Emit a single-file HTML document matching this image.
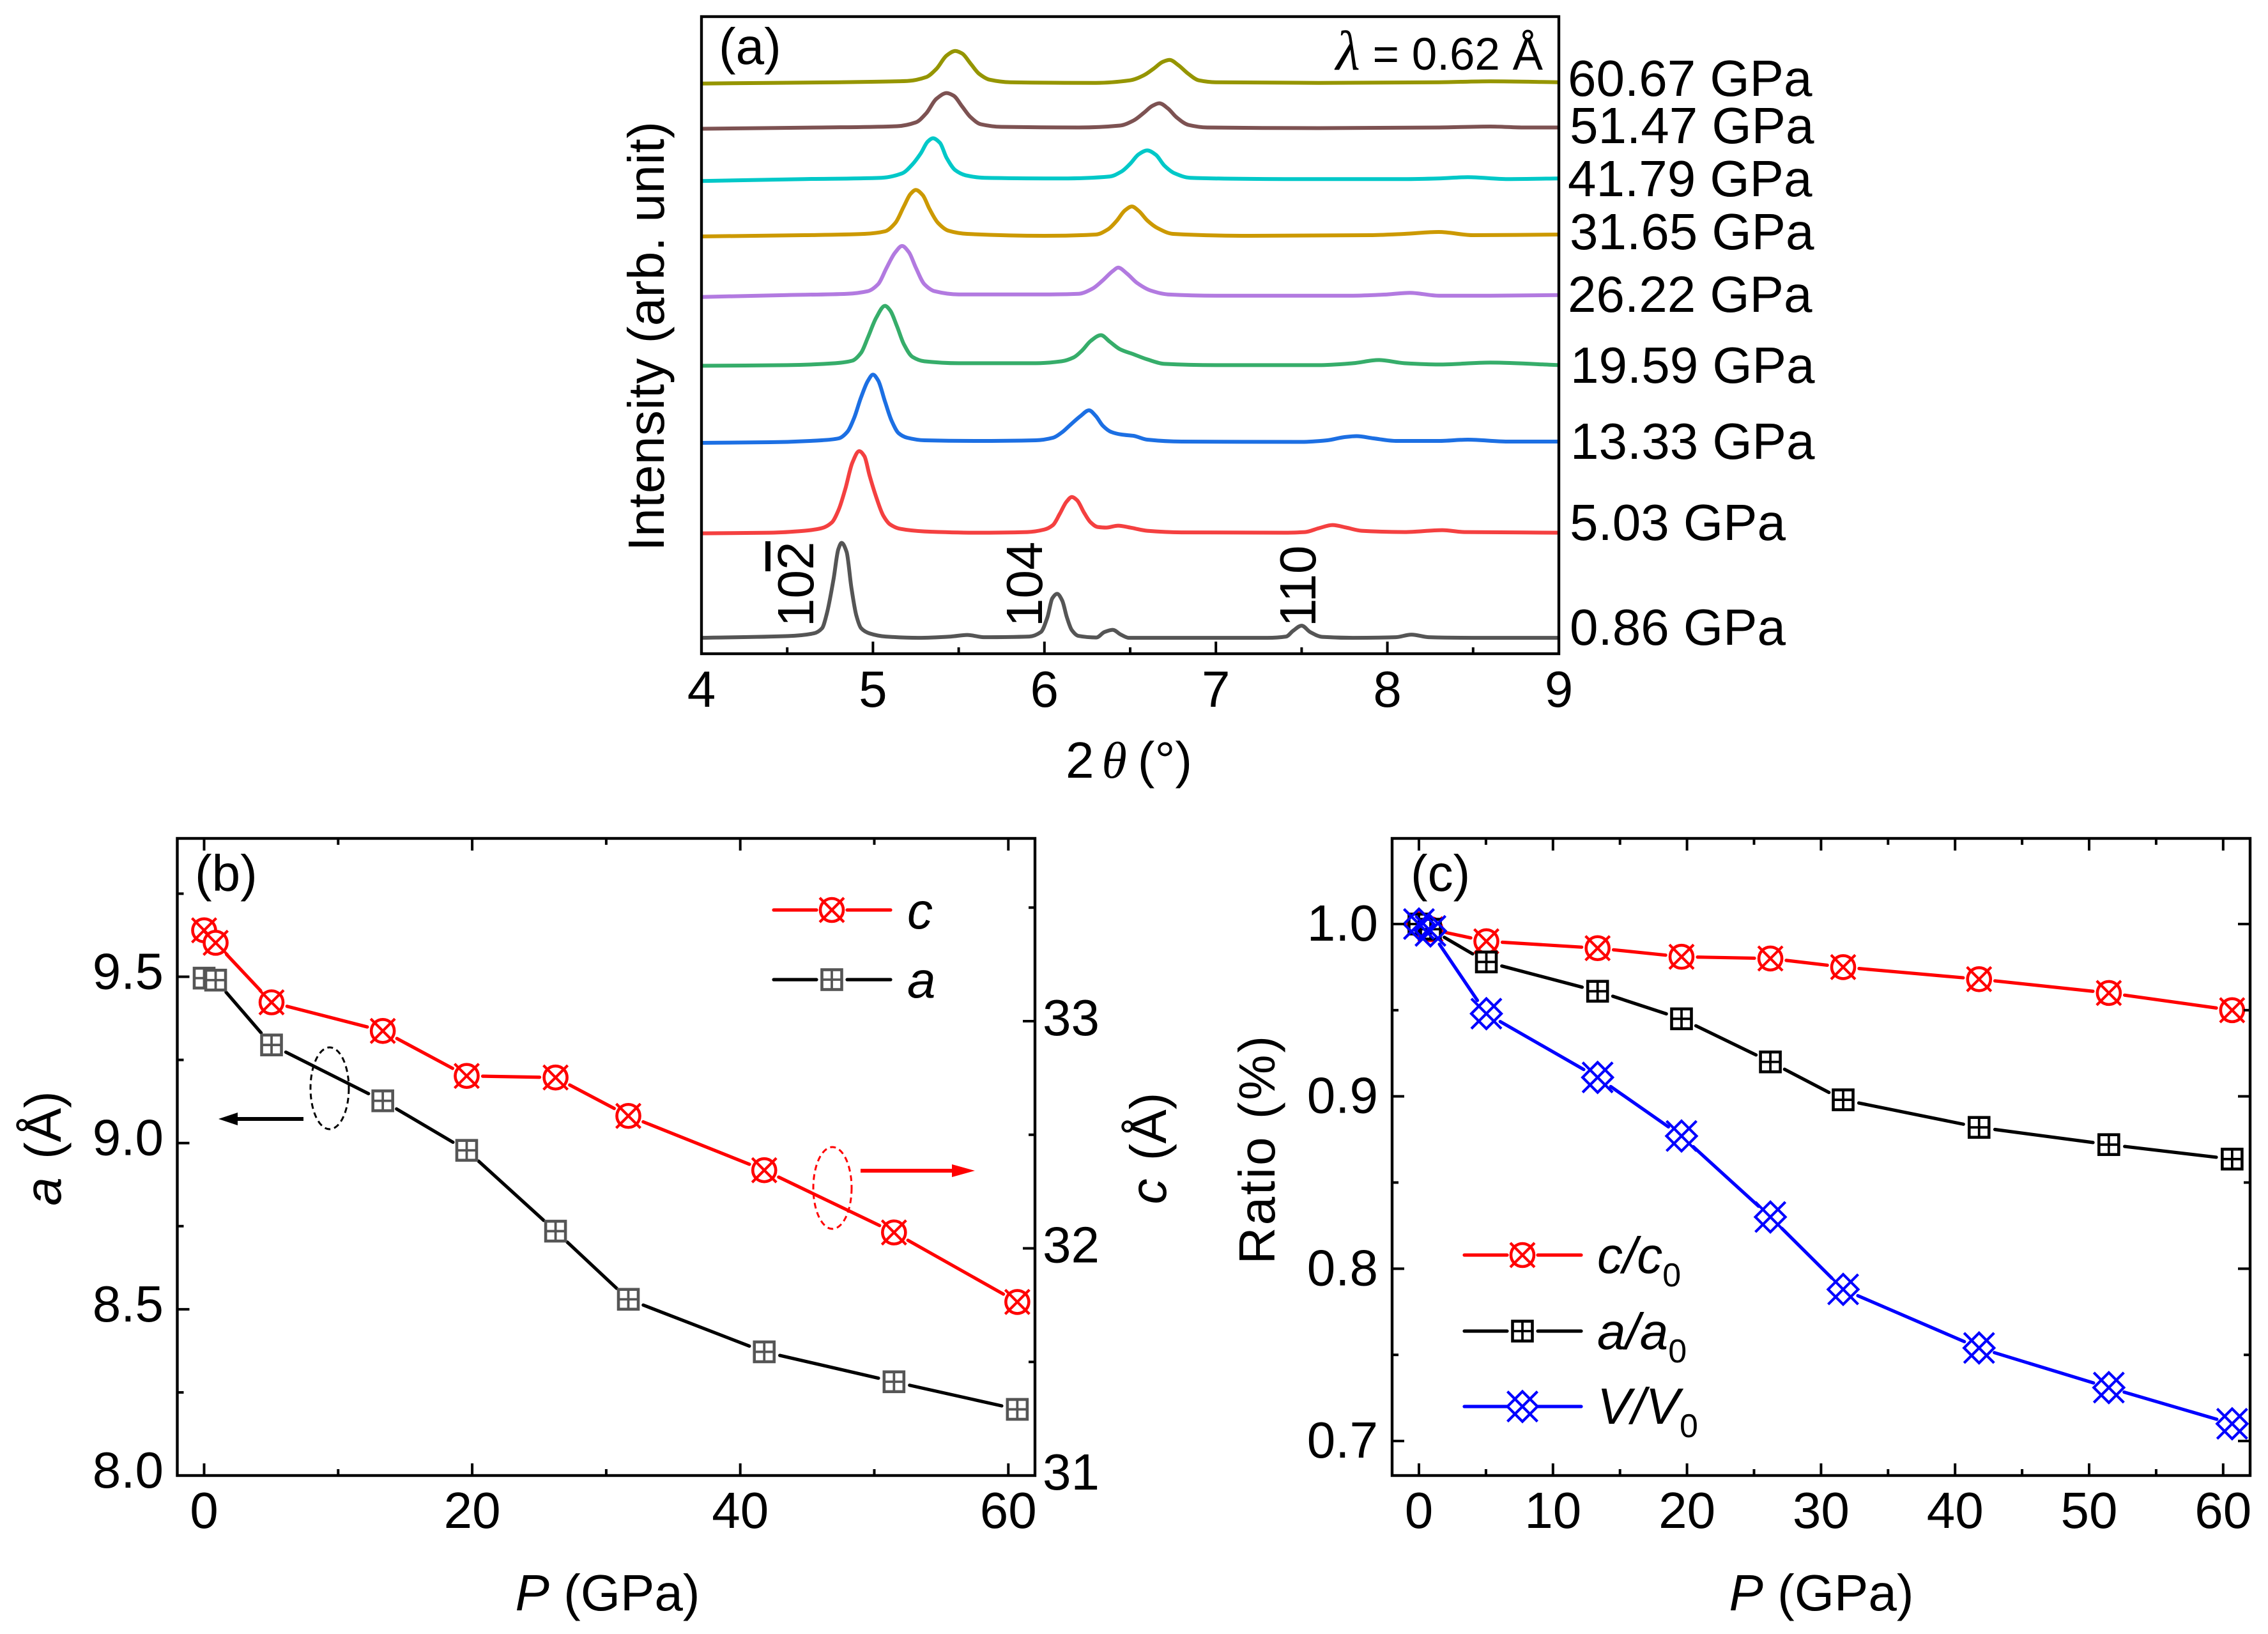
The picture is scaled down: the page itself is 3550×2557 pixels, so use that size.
<!DOCTYPE html>
<html lang="en">
<head>
<meta charset="utf-8">
<title>XRD patterns and lattice parameters under pressure</title>
<style>
html,body{margin:0;padding:0;background:#fff;}
svg{display:block;}
text{font-family:"Liberation Sans",sans-serif;font-size:80px;fill:#000;}
.it{font-style:italic;}
.gk{font-family:"Liberation Serif",serif;font-style:italic;}
</style>
</head>
<body>
<svg id="fig" xmlns="http://www.w3.org/2000/svg" width="3550" height="2557" viewBox="0 0 3550 2557">
  <rect x="0" y="0" width="3550" height="2557" fill="#fff"/>

  <g id="panelA"></g>
  <g id="panelB"></g>
  <g id="panelC"></g>

  <g>
    <text x="1125" y="100">(a)</text>
    <text x="2415" y="109" text-anchor="end" style="font-size:71px"><tspan class="gk" style="font-size:88px">λ</tspan> = 0.62 Å</text>
    <text transform="translate(1039 526) rotate(-90)" text-anchor="middle" style="letter-spacing:0.5px">Intensity (arb. unit)</text>
    <text x="1668" y="1217">2<tspan class="gk" dx="12">θ</tspan><tspan dx="17">(°)</tspan></text>
    <text transform="translate(1273 981) rotate(-90)">102</text>
    <rect x="1198" y="847" width="8" height="47" fill="#000"/>
    <text transform="translate(1631 981) rotate(-90)">104</text>
    <text transform="translate(2059 981) rotate(-90)">110</text>
    <text x="2454" y="150">60.67 GPa</text>
    <text x="2457" y="224">51.47 GPa</text>
    <text x="2454" y="307">41.79 GPa</text>
    <text x="2457" y="390">31.65 GPa</text>
    <text x="2454" y="488">26.22 GPa</text>
    <text x="2458" y="599">19.59 GPa</text>
    <text x="2458" y="718">13.33 GPa</text>
    <text x="2457" y="845">5.03 GPa</text>
    <text x="2457" y="1009">0.86 GPa</text>
  </g>

  <g>
    <text x="305" y="1394">(b)</text>
    <text x="951" y="2520" text-anchor="middle"><tspan class="it">P</tspan> (GPa)</text>
    <text transform="translate(95 1797) rotate(-90)" text-anchor="middle"><tspan class="it">a</tspan><tspan dx="6"> (Å)</tspan></text>
    <text transform="translate(1825 1797) rotate(-90)" text-anchor="middle"><tspan class="it">c</tspan><tspan dx="6"> (Å)</tspan></text>
    <text class="it" x="1420" y="1453">c</text>
    <text class="it" x="1420" y="1561">a</text>
    <ellipse cx="516" cy="1703" rx="30" ry="64" fill="none" stroke="#000" stroke-width="3" stroke-dasharray="9 6"/>
    <line x1="475" y1="1751" x2="365" y2="1751" stroke="#000" stroke-width="6"/>
    <polygon points="342,1751 372,1741 372,1761" fill="#000"/>
    <ellipse cx="1303" cy="1859" rx="30" ry="64" fill="none" stroke="#f00" stroke-width="3" stroke-dasharray="9 6"/>
    <line x1="1347" y1="1832" x2="1500" y2="1832" stroke="#f00" stroke-width="6"/>
    <polygon points="1526,1832 1490,1822 1490,1842" fill="#f00"/>
  </g>

  <g>
    <text x="2208" y="1394">(c)</text>
    <text x="2851" y="2520" text-anchor="middle"><tspan class="it">P</tspan> (GPa)</text>
    <text transform="translate(1995 1798) rotate(-90)" text-anchor="middle" style="letter-spacing:3px">Ratio (%)</text>
    <text x="2500" y="1992"><tspan class="it">c/c</tspan><tspan dy="21" style="font-size:52px">0</tspan></text>
    <text x="2500" y="2111"><tspan class="it">a/a</tspan><tspan dy="21" style="font-size:52px">0</tspan></text>
    <text x="2500" y="2228"><tspan class="it">V/V</tspan><tspan dy="21" style="font-size:52px">0</tspan></text>
  </g>
</svg>

<script>
// ===== Panel (a): diffraction patterns (2-theta in degrees, intensity in % of axis height) =====
const theta086 = [4,4.503,4.655,4.703,4.731,4.77,4.798,4.817,4.846,4.874,4.903,4.931,4.979,5.074,5.265,5.455,5.55,5.646,5.912,5.979,6.017,6.046,6.074,6.103,6.131,6.16,6.198,6.303,6.35,6.398,6.446,6.493,7.3,7.41,7.45,7.5,7.55,7.62,7.8,8.05,8.14,8.24,8.5,9];
const int086 = [2.5,2.77,3.2,4.0,6.3,11.7,16.4,17.4,16.0,10.4,6.0,4.0,3.2,2.7,2.5,2.7,2.95,2.6,2.7,3.4,5.7,8.7,9.4,8.4,5.7,3.7,2.8,2.55,3.4,3.75,3.0,2.5,2.5,2.7,3.6,4.4,3.4,2.65,2.5,2.6,3.0,2.6,2.5,2.5];
const theta503 = [4,4.4,4.6,4.7,4.76,4.8,4.84,4.88,4.92,4.95,4.98,5.02,5.06,5.1,5.16,5.3,5.6,5.9,6.0,6.05,6.09,6.13,6.16,6.19,6.23,6.27,6.31,6.36,6.43,6.5,6.6,6.8,7.4,7.52,7.6,7.68,7.76,7.85,8.1,8.32,8.45,9];
const int503 = [18.9,19,19.3,19.7,20.6,22.6,26,30,31.8,31,28,24.5,21.7,20.3,19.6,19.2,19,19.1,19.5,20.2,22,23.9,24.6,24.1,22.2,20.6,19.9,19.8,20.1,19.8,19.3,19.05,19,19.1,19.7,20.2,19.8,19.3,19.1,19.4,19.1,19];
const theta1333 = [4,4.4,4.7,4.8,4.85,4.89,4.93,4.97,5,5.03,5.07,5.11,5.15,5.2,5.3,5.6,5.95,6.05,6.1,6.15,6.21,6.26,6.3,6.34,6.39,6.45,6.52,6.6,6.8,7.5,7.65,7.75,7.82,7.92,8.05,8.3,8.47,8.7,9];
const int1333 = [33.1,33.2,33.5,33.8,34.8,37,40.2,42.8,43.8,42.9,39.6,36.5,34.6,33.9,33.5,33.4,33.5,33.9,34.7,35.9,37.3,38.2,37.3,35.8,34.8,34.4,34.2,33.6,33.3,33.25,33.5,34,34.15,33.8,33.4,33.4,33.6,33.3,33.3];
const theta1959 = [4,4.5,4.78,4.88,4.93,4.97,5.02,5.07,5.1,5.14,5.18,5.23,5.3,5.5,5.95,6.1,6.17,6.22,6.27,6.33,6.38,6.44,6.52,6.6,6.7,7,7.6,7.8,7.95,8.1,8.3,8.6,9];
const int1959 = [45.2,45.3,45.6,46,47.2,49.6,52.8,54.6,53.9,51.4,48.6,46.6,45.9,45.6,45.6,45.9,46.5,47.6,49.1,50,49,47.8,47,46.2,45.5,45.3,45.3,45.6,46.1,45.6,45.4,45.7,45.3];
const theta2622 = [4,4.5,4.85,4.97,5.03,5.08,5.13,5.17,5.21,5.25,5.3,5.36,5.5,6,6.2,6.28,6.34,6.4,6.43,6.48,6.54,6.62,6.72,7,7.8,8,8.13,8.3,8.6,9];
const int2622 = [56,56.3,56.5,56.9,58,60.6,63,64,63,60.6,58,56.9,56.4,56.4,56.5,57.3,58.6,60.1,60.6,59.7,58.2,57,56.4,56.2,56.2,56.4,56.65,56.2,56.2,56.3];
const theta3165 = [4,4.6,4.95,5.07,5.13,5.18,5.22,5.25,5.29,5.33,5.38,5.44,5.55,6,6.3,6.37,6.42,6.47,6.51,6.55,6.6,6.66,6.75,7.2,7.9,8.1,8.3,8.5,9];
const int3165 = [65.5,65.7,65.9,66.3,67.6,70.2,72.2,72.8,72,69.8,67.6,66.4,65.9,65.6,65.8,66.6,67.9,69.6,70.2,69.5,68,66.8,65.9,65.6,65.7,65.9,66.2,65.7,65.8];
const theta4179 = [4,4.6,5.05,5.17,5.23,5.28,5.32,5.35,5.39,5.43,5.48,5.54,5.65,6.1,6.38,6.45,6.5,6.55,6.6,6.65,6.7,6.76,6.85,7.4,8.1,8.3,8.47,8.7,9];
const int4179 = [74.2,74.5,74.7,75.4,76.8,78.6,80.4,80.9,80.2,77.8,75.9,75.1,74.7,74.6,74.9,75.7,76.9,78.4,79,78.3,76.6,75.4,74.7,74.5,74.5,74.6,74.8,74.5,74.6];
const theta5147 = [4,4.7,5.14,5.25,5.31,5.37,5.43,5.47,5.52,5.57,5.63,5.75,6.2,6.44,6.52,6.58,6.63,6.67,6.72,6.77,6.84,6.95,7.6,8.3,8.6,8.8,9];
const int5147 = [82.4,82.6,82.8,83.4,84.8,87.1,88,87.6,85.9,84.2,83.1,82.7,82.6,82.9,83.7,84.9,86,86.4,85.6,84.2,83,82.6,82.5,82.6,82.75,82.6,82.6];
const theta6067 = [4,4.8,5.2,5.31,5.37,5.43,5.48,5.52,5.57,5.62,5.68,5.8,6.3,6.5,6.58,6.64,6.69,6.73,6.78,6.84,6.9,7,7.6,8.3,8.6,9];
const int6067 = [89.5,89.7,89.9,90.5,91.8,93.9,94.6,94.2,92.6,91,90.1,89.7,89.6,90,90.8,91.9,92.9,93.2,92.4,91,90,89.7,89.6,89.7,89.85,89.7];

const thetaTicks = [4,5,6,7,8,9];
const thetaMinorTicks = [4.5,5.5,6.5,7.5,8.5];

// ===== Panels (b) and (c): pressure and lattice data =====
const pressure = [0,0.86,5.03,13.33,19.59,26.22,31.65,41.79,51.47,60.67];
const latticeC = [33.40,33.345,33.083,32.957,32.759,32.752,32.583,32.344,32.07,31.764];
const latticeA = [9.496,9.49,9.295,9.127,8.978,8.735,8.53,8.372,8.282,8.199];
const ratioC = [1,0.997,0.990,0.986,0.981,0.980,0.975,0.968,0.960,0.950];
const ratioA = [1,0.997,0.978,0.961,0.945,0.920,0.898,0.882,0.872,0.8636];
const ratioV = [1,0.996,0.948,0.911,0.877,0.830,0.788,0.754,0.731,0.710];

const bXTicks = [0,20,40,60];
const bXMinorTicks = [10,30,50];
const bATicks = [8,8.5,9,9.5];
const bAMinorTicks = [8.25,8.75,9.25,9.75];
const bATickLabels = ['8.0','8.5','9.0','9.5'];
const bCTicks = [31,32,33];
const bCMinorTicks = [31.5,32.5,33.5];
const cXTicks = [0,10,20,30,40,50,60];
const cXMinorTicks = [5,15,25,35,45,55];
const cYTicks = [0.7,0.8,0.9,1.0];
const cYMinorTicks = [0.75,0.85,0.95];
const cYTickLabels = ['0.7','0.8','0.9','1.0'];

// ===== Axis functions =====
const xA = t => 1098 + (t - 4) * 268.4;
const yA = i => 1023 - i * 9.97;
const xB = p => 319.5 + p * 20.98;
const yBa = a => 2309 - (a - 8) * 520.3;
const yBc = c => 2309 - (c - 31) * 355.5;
const xC = p => 2221 + p * 20.98;
const yC = v => 1446 + (1 - v) * 2696.7;

const NS = 'http://www.w3.org/2000/svg';
const panelA = document.getElementById('panelA');
const panelB = document.getElementById('panelB');
const panelC = document.getElementById('panelC');

function shape(parent, tag, props, name) {
  const el = document.createElementNS(NS, tag);
  for (const k in props) el.setAttribute(k, props[k]);
  
  
  parent.appendChild(el);
  return el;
}
function label(parent, str, x, y, anchor, name) {
  const el = document.createElementNS(NS, 'text');
  el.setAttribute('x', x);
  el.setAttribute('y', y);
  el.setAttribute('text-anchor', anchor);
  el.textContent = str;
  
  
  parent.appendChild(el);
  return el;
}
function seg(parent, x1, y1, x2, y2, color, w, name, cap) {
  return shape(parent, 'line', {x1, y1, x2, y2, stroke: color, 'stroke-width': w, 'stroke-linecap': cap || 'butt'}, name);
}
function frame(parent, l, t, r, b, name) {
  shape(parent, 'rect', {x: l, y: t, width: r - l, height: b - t, fill: 'none', stroke: '#000', 'stroke-width': 4.4}, name);
}
// tick drawing: side = bottom/top/left/right
function ticks(parent, values, fn, side, fixed, len, prefix) {
  values.forEach(v => {
    const p = fn(v);
    const d = (side === 'bottom' || side === 'right') ? -len : len;
    if (side === 'bottom' || side === 'top') seg(parent, p, fixed, p, fixed + d, '#000', 4, prefix + '-tick-' + v);
    else seg(parent, fixed, p, fixed + d, p, '#000', 4, prefix + '-tick-' + v);
  });
}

// monotone cubic path through data points
function smoothPath(xs, ys) {
  const n = xs.length, m = new Array(n), s = [];
  for (let i = 0; i < n - 1; i++) s.push((ys[i + 1] - ys[i]) / (xs[i + 1] - xs[i]));
  m[0] = s[0]; m[n - 1] = s[n - 2];
  for (let i = 1; i < n - 1; i++) {
    if (s[i - 1] * s[i] <= 0) m[i] = 0;
    else {
      const h0 = xs[i] - xs[i - 1], h1 = xs[i + 1] - xs[i];
      m[i] = 3 * (h0 + h1) / ((2 * h1 + h0) / s[i - 1] + (h1 + 2 * h0) / s[i]);
    }
  }
  let d = 'M' + xs[0].toFixed(1) + ' ' + ys[0].toFixed(1);
  for (let i = 0; i < n - 1; i++) {
    const h = (xs[i + 1] - xs[i]) / 3;
    d += 'C' + (xs[i] + h).toFixed(1) + ' ' + (ys[i] + m[i] * h).toFixed(1) + ' ' +
      (xs[i + 1] - h).toFixed(1) + ' ' + (ys[i + 1] - m[i + 1] * h).toFixed(1) + ' ' +
      xs[i + 1].toFixed(1) + ' ' + ys[i + 1].toFixed(1);
  }
  return d;
}

// ===== Markers =====
function markerCircle(parent, x, y, name) {
  const g = shape(parent, 'g', {}, name);
  shape(g, 'circle', {cx: x, cy: y, r: 18, fill: '#fff', stroke: '#f00', 'stroke-width': 4.6}, 'circle-outline');
  seg(g, x - 19, y - 19, x + 19, y + 19, '#f00', 4.2, 'cross-stroke-down');
  seg(g, x - 19, y + 19, x + 19, y - 19, '#f00', 4.2, 'cross-stroke-up');
}
function markerSquare(parent, x, y, color, name) {
  const g = shape(parent, 'g', {}, name);
  shape(g, 'rect', {x: x - 15.5, y: y - 15.5, width: 31, height: 31, fill: '#fff', stroke: color, 'stroke-width': 4.6}, 'square-outline');
  seg(g, x - 15.5, y, x + 15.5, y, color, 3.8, 'plus-stroke-horizontal');
  seg(g, x, y - 15.5, x, y + 15.5, color, 3.8, 'plus-stroke-vertical');
}
function markerDiamondX(parent, x, y, name) {
  const g = shape(parent, 'g', {}, name);
  const r = 23.5;
  shape(g, 'polygon', {points: (x - r) + ',' + y + ' ' + x + ',' + (y - r) + ' ' + (x + r) + ',' + y + ' ' + x + ',' + (y + r), fill: 'none', stroke: '#00f', 'stroke-width': 4.2}, 'diamond-outline');
  seg(g, x - r, y - r, x + r, y + r, '#00f', 4.2, 'cross-stroke-down');
  seg(g, x - r, y + r, x + r, y - r, '#00f', 4.2, 'cross-stroke-up');
}
function gappedLine(parent, xs, ys, fx, fy, color, name) {
  const gap = 25;
  for (let i = 0; i < xs.length - 1; i++) {
    const x1 = fx(xs[i]), y1 = fy(ys[i]), x2 = fx(xs[i + 1]), y2 = fy(ys[i + 1]);
    const d = Math.hypot(x2 - x1, y2 - y1);
    if (d <= 2 * gap) continue;
    const ux = (x2 - x1) / d, uy = (y2 - y1) / d;
    seg(parent, x1 + ux * gap, y1 + uy * gap, x2 - ux * gap, y2 - uy * gap, color, 5.2, name + '-segment-' + i, 'round');
  }
}
function legendLine(parent, x1, x2, xm, gap, y, color, name) {
  seg(parent, x1, y, xm - gap, y, color, 5.2, name + '-left', 'round');
  seg(parent, xm + gap, y, x2, y, color, 5.2, name + '-right', 'round');
}

// ===== Panel (a) =====
const spectra = [
  {name: 'pattern-0-86-gpa', color: '#555555', x: theta086, y: int086},
  {name: 'pattern-5-03-gpa', color: '#f44040', x: theta503, y: int503},
  {name: 'pattern-13-33-gpa', color: '#1c6fe3', x: theta1333, y: int1333},
  {name: 'pattern-19-59-gpa', color: '#36ad6a', x: theta1959, y: int1959},
  {name: 'pattern-26-22-gpa', color: '#b27ae0', x: theta2622, y: int2622},
  {name: 'pattern-31-65-gpa', color: '#cc9900', x: theta3165, y: int3165},
  {name: 'pattern-41-79-gpa', color: '#00c8c8', x: theta4179, y: int4179},
  {name: 'pattern-51-47-gpa', color: '#7d5252', x: theta5147, y: int5147},
  {name: 'pattern-60-67-gpa', color: '#959500', x: theta6067, y: int6067}
];
spectra.forEach(s => {
  shape(panelA, 'path', {d: smoothPath(s.x.map(xA), s.y.map(yA)), fill: 'none', stroke: s.color, 'stroke-width': 6, 'stroke-linejoin': 'round'}, s.name);
});
ticks(panelA, thetaTicks, xA, 'bottom', 1023, 19, 'a-x-major');
ticks(panelA, thetaMinorTicks, xA, 'bottom', 1023, 10, 'a-x-minor');
frame(panelA, 1098, 26, 2440, 1023, 'a-plot-frame');
thetaTicks.forEach(t => {
  label(panelA, String(t), xA(t), 1106, 'middle', 'a-x-tick-label-' + t);
});

// ===== Panel (b) =====
gappedLine(panelB, pressure, latticeA, xB, yBa, '#000', 'a-line');
gappedLine(panelB, pressure, latticeC, xB, yBc, '#f00', 'c-line');
pressure.forEach((p, i) => {
  markerSquare(panelB, xB(p), yBa(latticeA[i]), '#555555', 'a-marker-' + i);
});
pressure.forEach((p, i) => {
  markerCircle(panelB, xB(p), yBc(latticeC[i]), 'c-marker-' + i);
});
[[2309, 'bottom'], [1312, 'top']].forEach(e => {
  ticks(panelB, bXTicks, xB, e[1], e[0], 19, 'b-x-major-' + e[1]);
  ticks(panelB, bXMinorTicks, xB, e[1], e[0], 10, 'b-x-minor-' + e[1]);
});
ticks(panelB, bATicks.slice(1), yBa, 'left', 277.5, 19, 'b-a-major');
ticks(panelB, bAMinorTicks, yBa, 'left', 277.5, 10, 'b-a-minor');
ticks(panelB, bCTicks.slice(1), yBc, 'right', 1620, 19, 'b-c-major');
ticks(panelB, bCMinorTicks, yBc, 'right', 1620, 10, 'b-c-minor');
frame(panelB, 277.5, 1312, 1620, 2309, 'b-plot-frame');
bXTicks.forEach(p => {
  label(panelB, String(p), xB(p), 2391, 'middle', 'b-x-tick-label-' + p);
});
bATicks.forEach((a, i) => {
  label(panelB, bATickLabels[i], 256, yBa(a) + 19, 'end', 'b-a-tick-label-' + a);
});
bCTicks.forEach(c => {
  label(panelB, String(c), 1632, yBc(c) + 22, 'start', 'b-c-tick-label-' + c);
});
legendLine(panelB, 1211, 1394, 1302, 24, 1424, '#f00', 'legend-line-c');
markerCircle(panelB, 1302, 1424, 'legend-marker-c');
legendLine(panelB, 1211, 1394, 1302, 24, 1533, '#000', 'legend-line-a');
markerSquare(panelB, 1302, 1533, '#555555', 'legend-marker-a');

// ===== Panel (c) =====
gappedLine(panelC, pressure, ratioC, xC, yC, '#f00', 'c-ratio-line');
gappedLine(panelC, pressure, ratioA, xC, yC, '#000', 'a-ratio-line');
gappedLine(panelC, pressure, ratioV, xC, yC, '#00f', 'v-ratio-line');
pressure.forEach((p, i) => {
  markerCircle(panelC, xC(p), yC(ratioC[i]), 'c-ratio-marker-' + i);
});
pressure.forEach((p, i) => {
  markerSquare(panelC, xC(p), yC(ratioA[i]), '#000', 'a-ratio-marker-' + i);
});
pressure.forEach((p, i) => {
  markerDiamondX(panelC, xC(p), yC(ratioV[i]), 'v-ratio-marker-' + i);
});
[[2309, 'bottom'], [1312, 'top']].forEach(e => {
  ticks(panelC, cXTicks, xC, e[1], e[0], 19, 'c-x-major-' + e[1]);
  ticks(panelC, cXMinorTicks, xC, e[1], e[0], 10, 'c-x-minor-' + e[1]);
});
[[2179, 'left'], [3522, 'right']].forEach(e => {
  ticks(panelC, cYTicks, yC, e[1], e[0], 19, 'c-y-major-' + e[1]);
  ticks(panelC, cYMinorTicks, yC, e[1], e[0], 10, 'c-y-minor-' + e[1]);
});
frame(panelC, 2179, 1312, 3522, 2309, 'c-plot-frame');
cXTicks.forEach(p => {
  label(panelC, String(p), xC(p), 2391, 'middle', 'c-x-tick-label-' + p);
});
cYTicks.forEach((v, i) => {
  label(panelC, cYTickLabels[i], 2157, yC(v) + 26, 'end', 'c-y-tick-label-' + cYTickLabels[i]);
});
legendLine(panelC, 2292, 2475, 2383, 24, 1964, '#f00', 'legend-line-c-ratio');
markerCircle(panelC, 2383, 1964, 'legend-marker-c-ratio');
legendLine(panelC, 2292, 2475, 2383, 24, 2083, '#000', 'legend-line-a-ratio');
markerSquare(panelC, 2383, 2083, '#000', 'legend-marker-a-ratio');
legendLine(panelC, 2292, 2475, 2383, 24, 2201, '#00f', 'legend-line-v-ratio');
markerDiamondX(panelC, 2383, 2201, 'legend-marker-v-ratio');
</script>
</body>
</html>
